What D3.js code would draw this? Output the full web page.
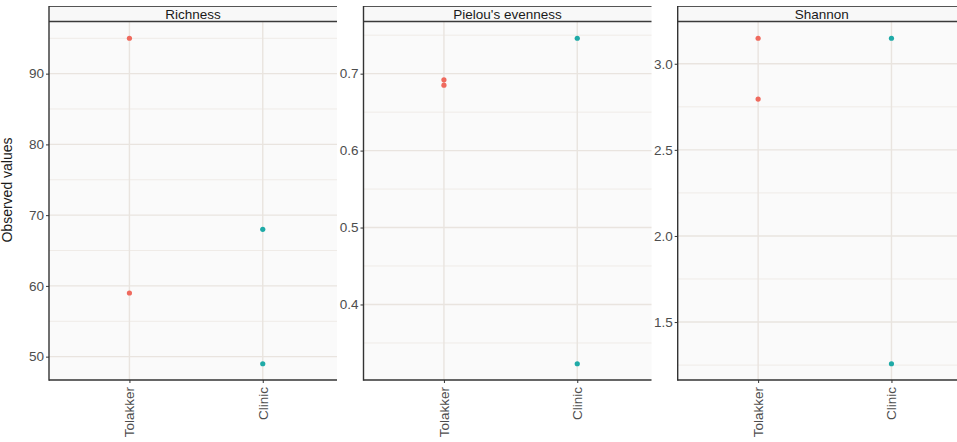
<!DOCTYPE html>
<html>
<head>
<meta charset="utf-8">
<script src="https://cdn.jsdelivr.net/npm/d3@7"></script>
<style>
  html, body { margin: 0; padding: 0; background: #ffffff; }
  svg { display: block; font-family: "Liberation Sans", Arial, sans-serif; }
</style>
</head>
<body>
<svg id="chart" width="957" height="442"></svg>
<script>
// Sample groups and diversity metrics
const groups = ["Tolakker", "Clinic"];
const metrics = ["Richness", "Pielou's evenness", "Shannon"];

// Observed values per metric, one array per group
const richnessTolakker = [95, 59];
const richnessClinic = [68, 49];
const pielouTolakker = [0.692, 0.685];
const pielouClinic = [0.746, 0.323];
const shannonTolakker = [3.148, 2.795];
const shannonClinic = [3.148, 1.258];

// Axis ticks per metric
const richnessTicks = [50, 60, 70, 80, 90];
const pielouTicks = [0.4, 0.5, 0.6, 0.7];
const shannonTicks = [1.5, 2.0, 2.5, 3.0];
const richnessMinor = [55, 65, 75, 85, 95];
const pielouMinor = [0.35, 0.45, 0.55, 0.65, 0.75];
const shannonMinor = [1.25, 1.75, 2.25, 2.75, 3.25];

const groupColors = { "Tolakker": "#ef6a5e", "Clinic": "#1faaa7" };

const facets = [
  { name: metrics[0], values: [richnessTolakker, richnessClinic], ticks: richnessTicks, minor: richnessMinor, fmt: d3.format("d") },
  { name: metrics[1], values: [pielouTolakker, pielouClinic], ticks: pielouTicks, minor: pielouMinor, fmt: d3.format(".1f") },
  { name: metrics[2], values: [shannonTolakker, shannonClinic], ticks: shannonTicks, minor: shannonMinor, fmt: d3.format(".1f") }
];

const svg = d3.select("#chart");

const stripTop = 6, panelTop = 22, panelBottom = 380;
const panelWidth = 288;
const panelLefts = [49, 363.5, 677.7];

facets.forEach((f, i) => {
  const x0 = panelLefts[i];
  const x1 = x0 + panelWidth;
  const g = svg.append("g");

  // free y scale with 5% expansion around the data
  const all = f.values.flat();
  const [lo, hi] = d3.extent(all);
  const pad = (hi - lo) * 0.05;
  const y = d3.scaleLinear().domain([lo - pad, hi + pad]).range([panelBottom, panelTop]);

  const x = d3.scalePoint().domain(groups).range([x0, x1]).padding(0.58).align(0.52);

  // panel background
  g.append("rect")
    .attr("x", x0).attr("y", panelTop)
    .attr("width", panelWidth).attr("height", panelBottom - panelTop)
    .attr("fill", "#fafafa");

  // minor grid
  g.selectAll("line.minor")
    .data(f.minor.filter(v => y(v) >= panelTop && y(v) <= panelBottom))
    .join("line")
    .attr("x1", x0).attr("x2", x1)
    .attr("y1", d => y(d)).attr("y2", d => y(d))
    .attr("stroke", "#efebe7").attr("stroke-width", 1);

  // major grid
  g.selectAll("line.major")
    .data(f.ticks)
    .join("line")
    .attr("x1", x0).attr("x2", x1)
    .attr("y1", d => y(d)).attr("y2", d => y(d))
    .attr("stroke", "#e9e4df").attr("stroke-width", 1.4);

  g.selectAll("line.vmajor")
    .data(groups)
    .join("line")
    .attr("x1", d => x(d)).attr("x2", d => x(d))
    .attr("y1", panelTop).attr("y2", panelBottom)
    .attr("stroke", "#e9e4df").attr("stroke-width", 1.4);

  // strip
  g.append("rect")
    .attr("x", x0).attr("y", stripTop)
    .attr("width", panelWidth).attr("height", panelTop - stripTop)
    .attr("fill", "#f8f8f8");
  g.append("line")
    .attr("x1", x0).attr("x2", x1).attr("y1", stripTop + 0.5).attr("y2", stripTop + 0.5)
    .attr("stroke", "#555").attr("stroke-width", 1);
  g.append("line")
    .attr("x1", x0).attr("x2", x1).attr("y1", panelTop - 0.5).attr("y2", panelTop - 0.5)
    .attr("stroke", "#3a3a3a").attr("stroke-width", 1.6);
  g.append("text")
    .attr("x", (x0 + x1) / 2).attr("y", 18.5)
    .attr("text-anchor", "middle")
    .attr("font-size", 13.5).attr("fill", "#1a1a1a")
    .text(f.name);

  // points
  f.values.forEach((vals, gi) => {
    g.selectAll(null)
      .data(vals)
      .join("circle")
      .attr("cx", x(groups[gi]))
      .attr("cy", d => y(d))
      .attr("r", 2.6)
      .attr("fill", groupColors[groups[gi]]);
  });

  // y axis
  const yAxis = g.append("g")
    .attr("transform", `translate(${x0},0)`)
    .call(d3.axisLeft(y).tickValues(f.ticks).tickFormat(f.fmt).tickSize(3).tickPadding(2));
  yAxis.select(".domain").remove();
  yAxis.selectAll(".tick line").attr("stroke", "#333");
  yAxis.selectAll(".tick text")
    .attr("font-size", 13.5).attr("fill", "#4d4d4d")
    .attr("font-family", "Liberation Sans, Arial, sans-serif");

  // x axis
  const xAxis = g.append("g")
    .attr("transform", `translate(0,${panelBottom})`)
    .call(d3.axisBottom(x).tickSize(3).tickPadding(4));
  xAxis.select(".domain").remove();
  xAxis.selectAll(".tick line").attr("stroke", "#333");
  xAxis.selectAll(".tick text")
    .attr("font-size", 13.5).attr("fill", "#4d4d4d")
    .attr("font-family", "Liberation Sans, Arial, sans-serif")
    .attr("text-anchor", "end")
    .attr("dy", null)
    .attr("transform", "translate(4.5,7) rotate(-90)")
    .attr("y", 0).attr("x", 0);

  // axis lines
  g.append("line")
    .attr("x1", x0).attr("x2", x0).attr("y1", stripTop).attr("y2", panelBottom + 0.7)
    .attr("stroke", "#333").attr("stroke-width", 1.4);
  g.append("line")
    .attr("x1", x0).attr("x2", x1).attr("y1", panelBottom).attr("y2", panelBottom)
    .attr("stroke", "#333").attr("stroke-width", 1.4);
});

// shared y-axis title at the far left edge
svg.append("text")
  .attr("transform", "translate(12,190) rotate(-90)")
  .attr("text-anchor", "middle")
  .attr("font-size", 14)
  .attr("fill", "#1a1a1a")
  .text("Observed values");
</script>
</body>
</html>
